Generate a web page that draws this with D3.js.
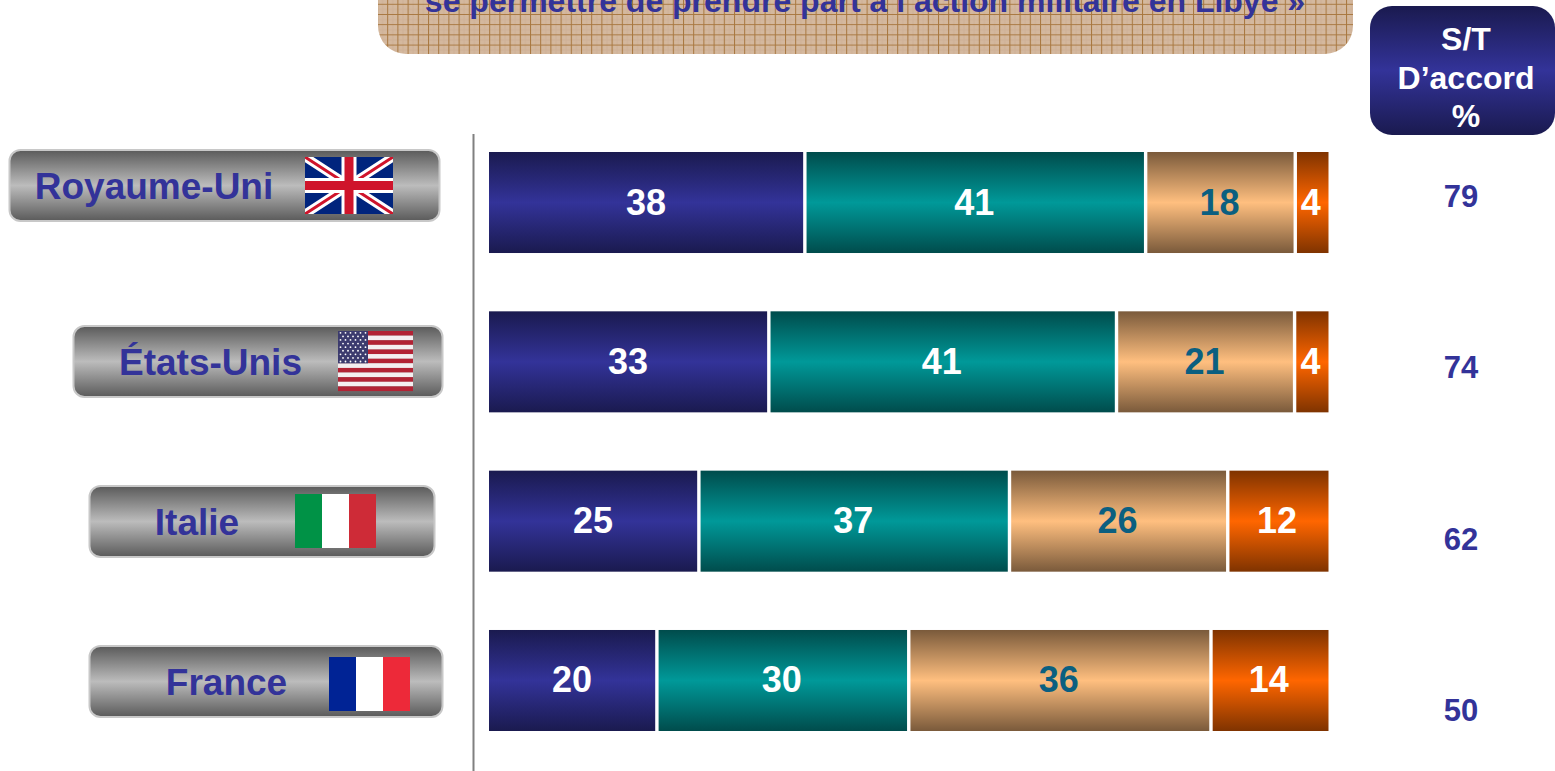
<!DOCTYPE html>
<html>
<head>
<meta charset="utf-8">
<script src="https://cdn.jsdelivr.net/npm/d3@7"></script>
<style>
html, body { margin: 0; padding: 0; background: #fff; overflow: hidden; }
text { font-family: "Liberation Sans", Arial, sans-serif; font-weight: bold; }
</style>
</head>
<body>
<script>
var countries = ['Royaume-Uni', 'États-Unis', 'Italie', 'France'];
var tout_a_fait = [38, 33, 25, 20];
var plutot = [41, 41, 37, 30];
var plutot_pas = [18, 21, 26, 36];
var pas_du_tout = [4, 4, 12, 14];
var st_accord = [79, 74, 62, 50];
var title_line = 'se permettre de prendre part à l’action militaire en Libye »';
var header_lines = ['S/T', 'D’accord', '%'];

var seriesKeys = ['tout', 'plutot', 'pasPlutot', 'pasTout'];
var barColors = {
    tout: ['#1a1a4f', '#333399'],
    plutot: ['#004c4c', '#009999'],
    pasPlutot: ['#7a5a3b', '#ffbf7f'],
    pasTout: ['#7f3300', '#ff6600']
};
var labelColors = { tout: '#fff', plutot: '#fff', pasPlutot: '#0b5f80', pasTout: '#fff' };

// pills don't line up with the bars in the slide, so placed by hand
var pills = {
    'Royaume-Uni': { x: 9.5, y: 150, w: 430, h: 71, textX: 154, base: 199, flag: [305, 157, 88, 57] },
    'États-Unis': { x: 73.5, y: 326, w: 369, h: 71, textX: 210.5, base: 375, flag: [338, 331, 75, 60] },
    'Italie': { x: 89.5, y: 486, w: 345, h: 71, textX: 197, base: 535, flag: [295, 494, 81, 54] },
    'France': { x: 89.5, y: 646, w: 353, h: 71, textX: 226.5, base: 695, flag: [329, 657, 81, 54] }
};

var svg = d3.select('body').append('svg')
    .attr('width', 1555)
    .attr('height', 771)
    .style('display', 'block');
var defs = svg.append('defs');

function addGradient(id, edge, mid) {
    var g = defs.append('linearGradient').attr('id', id)
        .attr('x1', 0).attr('y1', 0).attr('x2', 0).attr('y2', 1);
    g.append('stop').attr('offset', '0%').attr('stop-color', edge);
    g.append('stop').attr('offset', '50%').attr('stop-color', mid);
    g.append('stop').attr('offset', '100%').attr('stop-color', edge);
}
seriesKeys.forEach(function(k) { addGradient('grad-' + k, barColors[k][0], barColors[k][1]); });
addGradient('grad-pill', '#5a5a5a', '#bcbcbc');

// woven texture of the title box
var pat = defs.append('pattern').attr('id', 'weave')
    .attr('patternUnits', 'userSpaceOnUse')
    .attr('x', 377).attr('y', 3.8)
    .attr('width', 10.2).attr('height', 10.2);
pat.append('rect').attr('width', 10.2).attr('height', 10.2).attr('fill', '#d4b89e');
pat.append('path').attr('d', 'M5.6 0V10.2M0 5.6H10.2').attr('stroke', '#cfb197').attr('stroke-width', 1).attr('fill', 'none');
pat.append('path').attr('d', 'M0.5 0V10.2M0 0.5H10.2').attr('stroke', '#a8773f').attr('stroke-width', 1).attr('fill', 'none');

// title box, runs off the top of the picture
svg.append('rect')
    .attr('x', 378).attr('y', -60)
    .attr('width', 975).attr('height', 114)
    .attr('rx', 28).attr('ry', 28)
    .attr('fill', 'url(#weave)');
svg.append('text')
    .attr('x', 865).attr('y', 12)
    .attr('text-anchor', 'middle')
    .attr('font-size', 32)
    .attr('fill', '#333399')
    .text(title_line);

// S/T header
svg.append('rect')
    .attr('x', 1370).attr('y', 6)
    .attr('width', 185).attr('height', 129)
    .attr('rx', 22).attr('ry', 22)
    .attr('fill', 'url(#grad-tout)');
var headerY = d3.scalePoint().domain(header_lines).range([50, 127]);
svg.selectAll('.hdr').data(header_lines).enter().append('text')
    .attr('class', 'hdr')
    .attr('x', 1466)
    .attr('y', function(d) { return headerY(d); })
    .attr('text-anchor', 'middle')
    .attr('font-size', 32)
    .attr('fill', '#fff')
    .text(function(d) { return d; });

// axis line
svg.append('line')
    .attr('x1', 473.5).attr('x2', 473.5)
    .attr('y1', 134).attr('y2', 771)
    .attr('stroke', '#808080').attr('stroke-width', 2);

// bars
var rows = countries.map(function(c, i) {
    return { country: c, tout: tout_a_fait[i], plutot: plutot[i], pasPlutot: plutot_pas[i], pasTout: pas_du_tout[i] };
});
var stacked = d3.stack().keys(seriesKeys).offset(d3.stackOffsetExpand)(rows);

var x = d3.scaleLinear().domain([0, 1]).range([489, 1328.5]);
var y = d3.scaleBand().domain(countries).range([152, 731]).paddingInner(0.366).paddingOuter(0);
var gap = 1.7;

var layers = svg.selectAll('.layer').data(stacked).enter().append('g').attr('class', 'layer');

layers.selectAll('rect').data(function(s) {
    return s.map(function(d) { return { key: s.key, x0: d[0], x1: d[1], row: d.data }; });
}).enter().append('rect')
    .attr('x', function(d) { return x(d.x0) + (d.x0 > 0 ? gap : 0); })
    .attr('y', function(d) { return y(d.row.country); })
    .attr('width', function(d) {
        return x(d.x1) - x(d.x0) - (d.x0 > 0 ? gap : 0) - (d.x1 < 1 ? gap : 0);
    })
    .attr('height', y.bandwidth())
    .attr('fill', function(d) { return 'url(#grad-' + d.key + ')'; });

layers.selectAll('text').data(function(s) {
    return s.map(function(d) { return { key: s.key, x0: d[0], x1: d[1], row: d.data }; });
}).enter().append('text')
    .attr('x', function(d) { return (x(d.x0) + x(d.x1)) / 2 - 1; })
    .attr('y', function(d) { return y(d.row.country) + y.bandwidth() / 2 + 12; })
    .attr('text-anchor', 'middle')
    .attr('font-size', 36)
    .attr('fill', function(d) { return labelColors[d.key]; })
    .text(function(d) { return d.row[d.key]; });

// country pills
var pillG = svg.selectAll('.pill').data(countries).enter().append('g').attr('class', 'pill');
pillG.append('rect')
    .attr('x', function(d) { return pills[d].x; })
    .attr('y', function(d) { return pills[d].y; })
    .attr('width', function(d) { return pills[d].w; })
    .attr('height', function(d) { return pills[d].h; })
    .attr('rx', 11).attr('ry', 11)
    .attr('fill', 'url(#grad-pill)')
    .attr('stroke', '#c8c8c8').attr('stroke-width', 2);
pillG.append('text')
    .attr('x', function(d) { return pills[d].textX; })
    .attr('y', function(d) { return pills[d].base; })
    .attr('text-anchor', 'middle')
    .attr('font-size', 37)
    .attr('fill', '#333399')
    .text(function(d) { return d; });

function tricolor(f, c1, c2, c3) {
    var g = svg.append('g');
    [c1, c2, c3].forEach(function(c, i) {
        g.append('rect')
            .attr('x', f[0] + i * f[2] / 3).attr('y', f[1])
            .attr('width', f[2] / 3 + (i < 2 ? 0.3 : 0)).attr('height', f[3])
            .attr('fill', c);
    });
}

function ukFlag(f) {
    var id = 'uk-clip';
    defs.append('clipPath').attr('id', id).append('rect')
        .attr('x', f[0]).attr('y', f[1]).attr('width', f[2]).attr('height', f[3]);
    var g = svg.append('g').attr('clip-path', 'url(#' + id + ')');
    var x0 = f[0], y0 = f[1], x1 = f[0] + f[2], y1 = f[1] + f[3];
    var cx = (x0 + x1) / 2, cy = (y0 + y1) / 2;
    g.append('rect').attr('x', x0).attr('y', y0).attr('width', f[2]).attr('height', f[3]).attr('fill', '#00247d');
    var diag = 'M' + x0 + ' ' + y0 + 'L' + x1 + ' ' + y1 + 'M' + x1 + ' ' + y0 + 'L' + x0 + ' ' + y1;
    g.append('path').attr('d', diag).attr('stroke', '#fff').attr('stroke-width', 9).attr('fill', 'none');
    g.append('path').attr('d', diag).attr('stroke', '#cf142b').attr('stroke-width', 3).attr('fill', 'none');
    var cross = 'M' + cx + ' ' + y0 + 'V' + y1 + 'M' + x0 + ' ' + cy + 'H' + x1;
    g.append('path').attr('d', cross).attr('stroke', '#fff').attr('stroke-width', 15).attr('fill', 'none');
    g.append('path').attr('d', cross).attr('stroke', '#cf142b').attr('stroke-width', 9).attr('fill', 'none');
}

function usFlag(f) {
    var g = svg.append('g');
    var sh = f[3] / 13;
    d3.range(13).forEach(function(i) {
        g.append('rect')
            .attr('x', f[0]).attr('y', f[1] + i * sh)
            .attr('width', f[2]).attr('height', sh + 0.1)
            .attr('fill', i % 2 ? '#f4eef0' : '#b22234');
    });
    var cw = f[2] * 0.4, ch = sh * 7;
    g.append('rect').attr('x', f[0]).attr('y', f[1]).attr('width', cw).attr('height', ch).attr('fill', '#3c3b6e');
    d3.range(9).forEach(function(r) {
        var n = r % 2 ? 5 : 6;
        d3.range(n).forEach(function(c) {
            g.append('circle')
                .attr('cx', f[0] + cw * ((c + (r % 2 ? 1 : 0.5)) / 6))
                .attr('cy', f[1] + ch * ((r + 0.5) / 9))
                .attr('r', 0.9)
                .attr('fill', '#fff');
        });
    });
}

ukFlag(pills['Royaume-Uni'].flag);
usFlag(pills['États-Unis'].flag);
tricolor(pills['Italie'].flag, '#009246', '#ffffff', '#ce2b37');
tricolor(pills['France'].flag, '#002395', '#ffffff', '#ed2939');

// S/T values
var stY = d3.scalePoint().domain(countries).range([207, 721]);
svg.selectAll('.st').data(st_accord).enter().append('text')
    .attr('class', 'st')
    .attr('x', 1461)
    .attr('y', function(d, i) { return stY(countries[i]); })
    .attr('text-anchor', 'middle')
    .attr('font-size', 31)
    .attr('fill', '#333399')
    .text(function(d) { return d; });
</script>
</body>
</html>
